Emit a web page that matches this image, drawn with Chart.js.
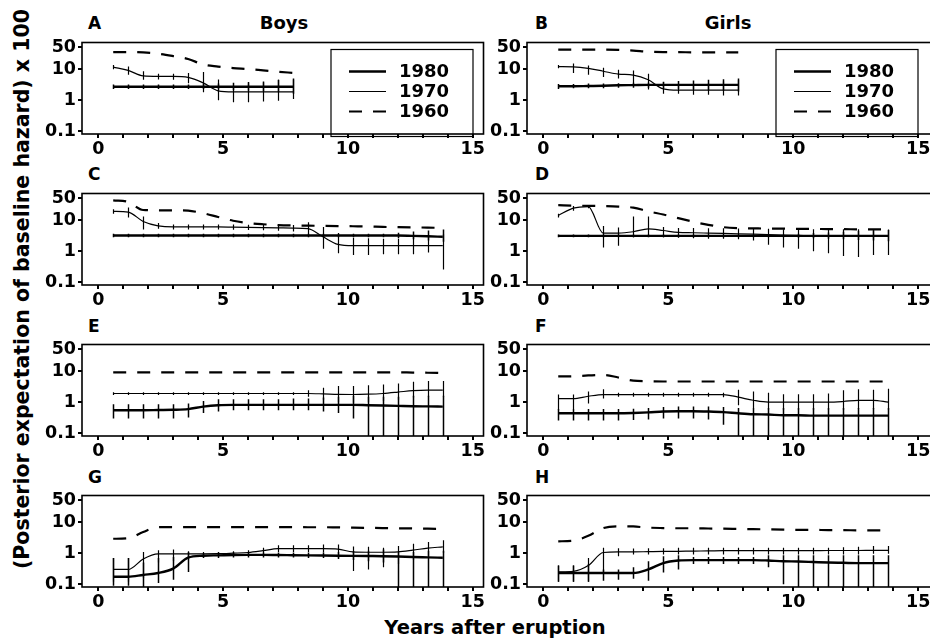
<!DOCTYPE html>
<html lang="en">
  <head>
    <meta charset="UTF-8" />
    <title>Baseline hazard by cohort</title>
    <style>
      body { margin: 0; width: 930px; height: 640px; overflow: hidden; background: #fff; position: relative;
             font-family: "DejaVu Sans", "Liberation Sans", Arial, sans-serif; font-weight: bold; color: #000; }
      canvas { position: absolute; }
      .txt { position: absolute; line-height: 1; white-space: nowrap; }
    </style>
  </head>
  <body>
    <div class="txt" style="left:88px;top:15px;font-size:17px">A</div>
    <div class="txt" style="left:535px;top:15px;font-size:17px">B</div>
    <div class="txt" style="left:88px;top:166px;font-size:17px">C</div>
    <div class="txt" style="left:535px;top:166px;font-size:17px">D</div>
    <div class="txt" style="left:88px;top:318px;font-size:17px">E</div>
    <div class="txt" style="left:535px;top:318px;font-size:17px">F</div>
    <div class="txt" style="left:88px;top:469px;font-size:17px">G</div>
    <div class="txt" style="left:535px;top:469px;font-size:17px">H</div>
    <div class="txt" style="left:284px;top:14px;font-size:18px;transform:translateX(-50%)">Boys</div>
    <div class="txt" style="left:728px;top:14px;font-size:18px;transform:translateX(-50%)">Girls</div>
    <div class="txt" style="left:22px;top:289px;font-size:20.5px;transform:translate(-50%,-50%) rotate(-90deg)">(Posterior expectation of baseline hazard) x 100</div>
    <div class="txt" style="left:495px;top:628px;font-size:19.5px;transform:translate(-50%,-50%)">Years after eruption</div>

    <canvas id="A" width="456" height="128" style="left:30px;top:30px"></canvas>
    <canvas id="B" width="462" height="128" style="left:475px;top:30px"></canvas>
    <canvas id="C" width="456" height="128" style="left:30px;top:181px"></canvas>
    <canvas id="D" width="462" height="128" style="left:475px;top:181px"></canvas>
    <canvas id="E" width="456" height="128" style="left:30px;top:332px"></canvas>
    <canvas id="F" width="462" height="128" style="left:475px;top:332px"></canvas>
    <canvas id="G" width="456" height="128" style="left:30px;top:483px"></canvas>
    <canvas id="H" width="462" height="128" style="left:475px;top:483px"></canvas>

    <script src="https://cdn.jsdelivr.net/npm/chart.js"></script>
    <script>
      // time points (years after eruption)
      const yearX = [0.6, 1.2, 1.8, 2.4, 3.0, 3.6, 4.2, 4.8, 5.4, 6.0, 6.6, 7.2, 7.8, 8.4, 9.0, 9.6, 10.2, 10.8, 11.4, 12.0, 12.6, 13.2, 13.8];
      const yearXShort = [0.6, 1.2, 1.8, 2.4, 3.0, 3.6, 4.2, 4.8, 5.4, 6.0, 6.6, 7.2, 7.8];
      const yTicks = [0.1, 1, 10, 50];
      const cohorts = ["1980", "1970", "1960"];

      // A - boys
      const a80 = [2.7, 2.7, 2.7, 2.7, 2.7, 2.7, 2.7, 2.7, 2.7, 2.7, 2.7, 2.7, 2.7];
      const a80lo = [2.3, 2.3, 2.3, 2.3, 2.3, 2.3, 2.3, 2.2, 2.1, 2.0, 1.9, 1.8, 1.6];
      const a80hi = [3.2, 3.2, 3.2, 3.2, 3.2, 3.2, 3.3, 3.4, 3.6, 3.8, 4.0, 4.5, 5.0];
      const a70 = [11.5, 9.0, 6.0, 5.8, 5.8, 5.4, 3.6, 2.0, 1.85, 1.85, 1.85, 1.85, 1.85];
      const a70lo = [9.8, 6.5, 4.5, 4.6, 4.5, 3.5, 1.8, 1.0, 0.85, 0.86, 0.9, 0.95, 1.1];
      const a70hi = [13.5, 12, 8.5, 7, 7, 7.5, 8, 4.6, 2.8, 3.4, 3.7, 4.5, 4.6];
      const a60 = [35, 35, 34, 31, 26, 21, 14, 12, 10.7, 10, 9.1, 8.2, 7.5];

      // B - girls
      const b80 = [2.8, 2.8, 2.85, 2.9, 3.0, 3.05, 3.1, 3.1, 3.1, 3.1, 3.1, 3.1, 3.1];
      const b80lo = [2.3, 2.4, 2.4, 2.4, 2.5, 2.5, 2.5, 2.4, 2.3, 2.2, 2.1, 2.0, 1.9];
      const b80hi = [3.3, 3.3, 3.4, 3.4, 3.5, 3.6, 3.7, 3.9, 4.1, 4.3, 4.5, 4.7, 5.0];
      const b70 = [12, 11.8, 10.5, 8.5, 6.9, 6.4, 4.5, 2.3, 2.1, 2.1, 2.1, 2.1, 2.1];
      const b70lo = [10.5, 7.5, 6.5, 5.5, 5.0, 3.0, 2.2, 1.6, 1.6, 1.5, 1.5, 1.4, 1.4];
      const b70hi = [13.5, 15, 13, 11, 9.5, 9, 7, 3.8, 3.3, 3.3, 3.5, 4.0, 4.5];
      const b60 = [42, 42, 42, 42, 41, 39, 36, 35, 35, 34, 34, 34, 34];

      // C
      const c80 = [3.2, 3.2, 3.2, 3.2, 3.2, 3.2, 3.2, 3.2, 3.2, 3.2, 3.2, 3.2, 3.2, 3.2, 3.2, 3.2, 3.2, 3.2, 3.2, 3.2, 3.1, 3.0, 2.9];
      const c80lo = [2.8, 2.8, 2.8, 2.8, 2.8, 2.8, 2.8, 2.8, 2.8, 2.8, 2.8, 2.8, 2.8, 2.8, 2.8, 2.8, 2.8, 2.8, 2.8, 2.6, 2.4, 2.2, 2.0];
      const c80hi = [3.6, 3.6, 3.6, 3.6, 3.6, 3.6, 3.6, 3.6, 3.6, 3.6, 3.6, 3.6, 3.6, 3.6, 3.6, 3.6, 3.6, 3.6, 3.6, 3.9, 4.3, 4.6, 5.0];
      const c70 = [19, 18, 9, 6.5, 6.0, 6.0, 6.0, 6.0, 5.9, 5.8, 5.7, 5.6, 5.5, 5.3, 2.9, 1.65, 1.5, 1.5, 1.5, 1.5, 1.5, 1.5, 1.5];
      const c70lo = [16, 12, 5, 5.2, 5, 5, 5, 5, 4.9, 4.8, 4.7, 4.5, 4.3, 3.5, 1.2, 0.85, 0.75, 0.75, 0.8, 0.8, 0.8, 0.9, 0.26];
      const c70hi = [22, 25, 13, 8, 7.2, 7.2, 7.2, 7.2, 7.2, 7.0, 7.0, 6.9, 6.9, 8.4, 6.0, 3.8, 2.7, 2.6, 2.5, 2.5, 3.0, 3.0, 3.5];
      const c60 = [43, 38, 21, 20.5, 20.5, 20, 16.5, 12.5, 9.5, 8, 7.3, 6.9, 6.7, 6.6, 6.5, 6.4, 6.3, 6.2, 6.0, 5.9, 5.8, 5.7, 5.6];

      // D
      const d80 = [3.1, 3.1, 3.1, 3.1, 3.1, 3.1, 3.1, 3.1, 3.1, 3.1, 3.1, 3.1, 3.1, 3.1, 3.1, 3.1, 3.1, 3.1, 3.1, 3.1, 3.1, 3.1, 3.1];
      const d80lo = [2.8, 2.8, 2.8, 2.8, 2.8, 2.8, 2.8, 2.8, 2.8, 2.8, 2.8, 2.8, 2.8, 2.8, 2.8, 2.8, 2.7, 2.6, 2.5, 2.4, 2.3, 2.2, 2.1];
      const d80hi = [3.4, 3.4, 3.4, 3.4, 3.4, 3.4, 3.4, 3.4, 3.4, 3.4, 3.4, 3.4, 3.4, 3.4, 3.4, 3.4, 3.6, 3.8, 4.0, 4.2, 4.5, 4.7, 4.8];
      const d70 = [14, 24, 27, 3.8, 3.8, 4.2, 5.2, 4.6, 4.0, 3.9, 3.8, 3.7, 3.6, 3.5, 3.4, 3.3, 3.2, 3.1, 3.1, 3.1, 3.1, 3.1, 3.1];
      const d70lo = [12, 20, 24, 1.3, 1.5, 2.8, 3.1, 2.8, 2.7, 2.6, 2.5, 2.5, 2.4, 2.2, 1.6, 1.3, 1.2, 1.0, 0.85, 0.7, 0.65, 0.75, 0.75];
      const d70hi = [16, 28, 30, 6.4, 5.7, 13, 13, 6, 5.5, 5.5, 5.4, 5.4, 5.3, 5.3, 5.2, 5.1, 5.1, 5.1, 5.1, 5.1, 5.1, 5.0, 5.0];
      const d60 = [30, 29, 28.5, 28, 27, 25, 19, 15, 11.5, 8.8, 7.0, 5.9, 5.5, 5.4, 5.3, 5.3, 5.2, 5.2, 5.1, 5.1, 5.0, 5.0, 5.0];

      // E
      const e80 = [0.55, 0.55, 0.55, 0.56, 0.57, 0.6, 0.72, 0.8, 0.82, 0.82, 0.82, 0.82, 0.82, 0.82, 0.82, 0.82, 0.82, 0.8, 0.78, 0.76, 0.74, 0.73, 0.72];
      const e80lo = [0.3, 0.3, 0.3, 0.3, 0.3, 0.32, 0.45, 0.5, 0.55, 0.55, 0.55, 0.55, 0.55, 0.55, 0.5, 0.45, 0.3, 0.05, 0.05, 0.05, 0.05, 0.05, 0.05];
      const e80hi = [0.85, 0.85, 0.85, 0.85, 0.85, 0.9, 1.1, 1.25, 1.25, 1.25, 1.25, 1.25, 1.3, 1.3, 1.4, 1.5, 1.6, 1.5, 1.5, 1.5, 1.6, 1.6, 1.6];
      const e70 = [1.9, 1.9, 1.9, 1.9, 1.9, 1.9, 1.9, 1.9, 1.9, 1.9, 1.9, 1.9, 1.9, 1.9, 1.85, 1.78, 1.76, 1.8, 1.9, 2.1, 2.35, 2.45, 2.45];
      const e70lo = [1.7, 1.7, 1.7, 1.7, 1.7, 1.7, 1.7, 1.7, 1.7, 1.7, 1.7, 1.7, 1.7, 1.5, 1.2, 1.0, 0.95, 1.0, 1.1, 1.2, 1.4, 1.5, 1.5];
      const e70hi = [2.1, 2.1, 2.1, 2.1, 2.1, 2.1, 2.1, 2.1, 2.1, 2.1, 2.1, 2.1, 2.1, 2.4, 2.9, 3.3, 3.3, 3.5, 3.7, 4.0, 4.5, 4.8, 4.8];
      const e60 = [9.1, 9.1, 9.1, 9.1, 9.1, 9.1, 9.1, 9.1, 9.1, 9.1, 9.1, 9.1, 9.1, 9.1, 9.1, 9.1, 9.1, 9.1, 9.1, 9.1, 8.9, 8.8, 8.6];

      // F
      const f80 = [0.44, 0.44, 0.44, 0.44, 0.44, 0.45, 0.47, 0.5, 0.51, 0.51, 0.5, 0.48, 0.44, 0.41, 0.4, 0.38, 0.38, 0.37, 0.37, 0.37, 0.37, 0.37, 0.37];
      const f80lo = [0.26, 0.26, 0.26, 0.26, 0.26, 0.27, 0.28, 0.3, 0.3, 0.3, 0.28, 0.19, 0.05, 0.05, 0.05, 0.05, 0.05, 0.05, 0.05, 0.05, 0.05, 0.05, 0.05];
      const f80hi = [0.6, 0.6, 0.6, 0.6, 0.6, 0.62, 0.65, 0.7, 0.72, 0.72, 0.72, 0.7, 0.65, 0.65, 0.65, 0.65, 0.65, 0.65, 0.65, 0.65, 0.65, 0.65, 0.65];
      const f70 = [1.3, 1.3, 1.55, 1.75, 1.75, 1.75, 1.75, 1.75, 1.75, 1.75, 1.75, 1.75, 1.45, 1.15, 1.0, 1.0, 1.0, 1.0, 1.0, 1.05, 1.15, 1.15, 1.0];
      const f70lo = [0.57, 0.6, 0.9, 1.3, 1.5, 1.5, 1.5, 1.5, 1.5, 1.5, 1.5, 1.45, 0.8, 0.65, 0.57, 0.55, 0.55, 0.55, 0.55, 0.55, 0.6, 0.6, 0.55];
      const f70hi = [1.75, 1.75, 2.2, 2.6, 2.0, 2.0, 2.0, 2.0, 2.0, 2.0, 2.0, 2.0, 2.5, 2.2, 2.0, 1.8, 1.8, 1.8, 1.9, 2.4, 2.6, 2.5, 2.7];
      const f60 = [6.7, 6.8, 7.2, 7.5, 6.2, 4.9, 4.7, 4.6, 4.6, 4.6, 4.6, 4.6, 4.6, 4.6, 4.6, 4.6, 4.6, 4.6, 4.6, 4.6, 4.6, 4.6, 4.6];

      // G
      const g80 = [0.175, 0.175, 0.2, 0.23, 0.32, 0.72, 0.83, 0.85, 0.87, 0.88, 0.88, 0.87, 0.86, 0.85, 0.84, 0.83, 0.82, 0.81, 0.8, 0.78, 0.75, 0.73, 0.71];
      const g80lo = [0.09, 0.09, 0.08, 0.11, 0.14, 0.25, 0.7, 0.7, 0.72, 0.72, 0.72, 0.72, 0.72, 0.7, 0.7, 0.65, 0.6, 0.55, 0.5, 0.05, 0.05, 0.05, 0.05];
      const g80hi = [0.7, 0.7, 0.5, 0.7, 0.75, 1.1, 1.0, 1.05, 1.05, 1.05, 1.05, 1.05, 1.05, 1.05, 1.05, 1.1, 1.15, 1.2, 1.3, 1.1, 1.1, 1.2, 1.2];
      const g70 = [0.3, 0.3, 0.65, 0.95, 0.95, 0.95, 0.95, 0.96, 1.0, 1.05, 1.2, 1.4, 1.4, 1.4, 1.4, 1.35, 1.1, 1.07, 1.07, 1.1, 1.25, 1.45, 1.6];
      const g70lo = [0.12, 0.12, 0.16, 0.5, 0.55, 0.7, 0.8, 0.8, 0.85, 0.85, 0.95, 1.1, 1.1, 1.1, 1.05, 0.7, 0.27, 0.3, 0.35, 0.45, 0.6, 0.8, 1.0];
      const g70hi = [0.7, 0.7, 1.1, 1.25, 1.3, 1.15, 1.1, 1.1, 1.15, 1.25, 1.5, 1.8, 1.8, 1.8, 1.9, 1.9, 1.65, 1.6, 1.5, 1.7, 2.0, 2.3, 2.6];
      const g60 = [2.9, 3.0, 4.8, 6.8, 6.9, 6.9, 6.9, 6.9, 6.9, 6.9, 6.9, 6.9, 6.9, 6.8, 6.8, 6.7, 6.6, 6.5, 6.4, 6.3, 6.2, 6.1, 6.0];

      // H
      const h80 = [0.23, 0.23, 0.23, 0.23, 0.23, 0.23, 0.3, 0.48, 0.58, 0.6, 0.6, 0.6, 0.6, 0.6, 0.58, 0.55, 0.54, 0.52, 0.5, 0.49, 0.48, 0.48, 0.48];
      const h80lo = [0.12, 0.12, 0.12, 0.13, 0.14, 0.15, 0.13, 0.24, 0.3, 0.45, 0.45, 0.45, 0.45, 0.45, 0.35, 0.1, 0.05, 0.05, 0.05, 0.05, 0.05, 0.05, 0.05];
      const h80hi = [0.4, 0.4, 0.45, 0.3, 0.3, 0.35, 0.55, 0.8, 0.85, 0.75, 0.75, 0.75, 0.75, 0.75, 0.85, 0.85, 0.85, 0.85, 0.85, 0.85, 0.85, 0.85, 0.85];
      const h70 = [0.25, 0.26, 0.4, 1.05, 1.1, 1.1, 1.12, 1.14, 1.15, 1.17, 1.18, 1.2, 1.2, 1.2, 1.2, 1.2, 1.2, 1.2, 1.22, 1.22, 1.22, 1.23, 1.23];
      const h70lo = [0.12, 0.12, 0.12, 0.25, 0.8, 0.9, 0.9, 0.9, 0.9, 0.9, 0.9, 0.9, 0.9, 0.9, 0.9, 0.9, 0.9, 0.9, 0.9, 0.9, 0.9, 0.95, 0.95];
      const h70hi = [0.4, 0.4, 0.7, 1.5, 1.45, 1.4, 1.45, 1.45, 1.5, 1.5, 1.5, 1.5, 1.5, 1.5, 1.5, 1.5, 1.5, 1.5, 1.5, 1.55, 1.6, 1.7, 1.7];
      const h60 = [2.4, 2.5, 3.6, 6.4, 7.3, 7.2, 6.6, 6.4, 6.3, 6.3, 6.2, 6.1, 6.0, 5.9, 5.8, 5.7, 5.6, 5.6, 5.5, 5.5, 5.4, 5.4, 5.3];

      const FONT = "DejaVu Sans, Liberation Sans, Arial, sans-serif";
      const DASH = [13, 11];

      // frame, error bars and the boxed legend
      const extras = {
        id: "extras",
        afterDatasetsDraw(chart, args, opts) {
          const { ctx, chartArea: a, scales } = chart;
          ctx.save();
          ctx.beginPath();
          ctx.rect(a.left, a.top, a.right - a.left, a.bottom - a.top);
          ctx.clip();
          ctx.strokeStyle = "#000";
          chart.data.datasets.forEach((ds) => {
            if (!ds.lo) return;
            ctx.lineWidth = ds.barWidth;
            ds.data.forEach((p, i) => {
              const x = Math.round(scales.x.getPixelForValue(p.x)) + 0.5;
              ctx.beginPath();
              ctx.moveTo(x, scales.y.getPixelForValue(ds.lo[i]));
              ctx.lineTo(x, scales.y.getPixelForValue(ds.hi[i]));
              ctx.stroke();
            });
          });
          ctx.restore();

          ctx.save();
          ctx.strokeStyle = "#000";
          ctx.lineWidth = 1.6;
          ctx.strokeRect(a.left, a.top, a.right - a.left, a.bottom - a.top);
          if (opts.legend) {
            const bx = a.left + 249, by = a.top + 7;
            ctx.lineWidth = 1.2;
            ctx.strokeRect(bx, by, 142, 87);
            ctx.font = "bold 18px " + FONT;
            ctx.textBaseline = "middle";
            ctx.fillStyle = "#000";
            cohorts.forEach((name, i) => {
              const ds = chart.data.datasets.find((d) => d.label === name);
              const y = by + 22 + i * 20;
              ctx.lineWidth = ds.borderWidth;
              ctx.setLineDash(ds.borderDash || []);
              ctx.beginPath();
              ctx.moveTo(bx + 18, y);
              ctx.lineTo(bx + 55, y);
              ctx.stroke();
              ctx.setLineDash([]);
              ctx.fillText(name, bx + 68, y + 1);
            });
          }
          ctx.restore();
        },
      };

      const pts = (xs, ys) => xs.map((x, i) => ({ x: x, y: ys[i] }));

      const makePanel = (id, xs, y80, lo80, hi80, y70, lo70, hi70, y60, xMax, legend) => {
        const tickFont = { family: FONT, size: 17.5, weight: "bold" };
        return new Chart(document.getElementById(id), {
          type: "line",
          data: {
            datasets: [
              { label: "1960", data: pts(xs, y60), borderColor: "#000", borderWidth: 2.2, borderDash: DASH },
              { label: "1970", data: pts(xs, y70), lo: lo70, hi: hi70, barWidth: 1.2, borderColor: "#000", borderWidth: 1.2 },
              { label: "1980", data: pts(xs, y80), lo: lo80, hi: hi80, barWidth: 1.5, borderColor: "#000", borderWidth: 2.4 },
            ],
          },
          options: {
            responsive: false,
            animation: false,
            layout: { padding: { top: 4, right: 2, left: 0, bottom: 0 } },
            elements: { point: { radius: 0 }, line: { cubicInterpolationMode: "monotone", fill: false } },
            plugins: { legend: { display: false }, tooltip: { enabled: false }, extras: { legend: legend } },
            scales: {
              x: {
                type: "linear",
                min: -0.65,
                max: xMax,
                border: { display: false },
                grid: { drawOnChartArea: false, tickLength: 4, lineWidth: 2, color: "#000" },
                ticks: {
                  stepSize: 1,
                  includeBounds: false,
                  autoSkip: false,
                  maxRotation: 0,
                  padding: 1,
                  color: "#000",
                  font: tickFont,
                  callback: (v) => (v % 5 === 0 ? String(v) : ""),
                },
                afterFit: (s) => { s.height = 24; },
              },
              y: {
                type: "logarithmic",
                min: 0.082,
                max: 71,
                border: { display: false },
                grid: { drawOnChartArea: false, tickLength: 4, lineWidth: 2, color: "#000" },
                afterBuildTicks: (s) => { s.ticks = yTicks.map((v) => ({ value: v })); },
                ticks: { padding: 2, color: "#000", font: tickFont, callback: (v) => String(v) },
                afterFit: (s) => { s.width = 52; },
              },
            },
          },
          plugins: [extras],
        });
      };

      makePanel("A", yearXShort, a80, a80lo, a80hi, a70, a70lo, a70hi, a60, 15.43, true);
      makePanel("B", yearXShort, b80, b80lo, b80hi, b70, b70lo, b70hi, b60, 15.67, true);
      makePanel("C", yearX, c80, c80lo, c80hi, c70, c70lo, c70hi, c60, 15.43, false);
      makePanel("D", yearX, d80, d80lo, d80hi, d70, d70lo, d70hi, d60, 15.67, false);
      makePanel("E", yearX, e80, e80lo, e80hi, e70, e70lo, e70hi, e60, 15.43, false);
      makePanel("F", yearX, f80, f80lo, f80hi, f70, f70lo, f70hi, f60, 15.67, false);
      makePanel("G", yearX, g80, g80lo, g80hi, g70, g70lo, g70hi, g60, 15.43, false);
      makePanel("H", yearX, h80, h80lo, h80hi, h70, h70lo, h70hi, h60, 15.67, false);
    </script>
  </body>
</html>
